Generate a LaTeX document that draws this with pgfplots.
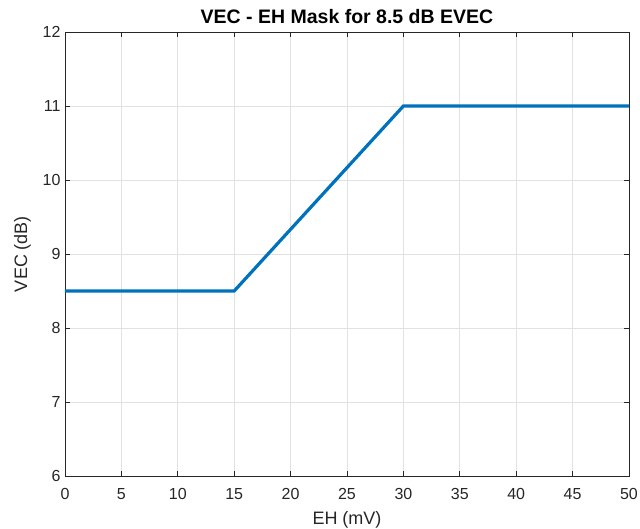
\documentclass[border=0pt]{standalone}
\usepackage{fontspec}
\setmainfont{Liberation Sans}
\usepackage{pgfplots}
\pgfplotsset{compat=1.18}
\definecolor{mblue}{RGB}{0,114,189}
\definecolor{axgray}{RGB}{38,38,38}
\definecolor{gridc}{RGB}{225,225,225}
\begin{document}
\begin{tikzpicture}[x=1pt,y=1pt]
\useasboundingbox (-65,-53) rectangle (575,476);
\begin{axis}[
  scale only axis, width=564pt, height=444pt,
  at={(0,0)}, anchor=south west,
  xmin=0, xmax=50, ymin=6, ymax=12,
  xtick={0,5,...,50}, ytick={6,7,...,12},
  grid=major,
  major grid style={gridc, line width=0.7pt},
  axis line style={axgray, line width=0.8pt},
  tick style={axgray, line width=0.8pt},
  tick align=inside, major tick length=5pt,
  tick label style={font=\fontsize{16}{18}\selectfont, text=axgray},
  /pgf/number format/assume math mode=true,
  xticklabel style={yshift=-9pt},
  yticklabel style={xshift=-1pt},
  title={\textbf{VEC - EH Mask for 8.5 dB EVEC}},
  title style={font=\fontsize{19.5}{22}\selectfont, at={(0.5,1)}, yshift=-1pt},
  xlabel={EH (mV)}, ylabel={VEC (dB)},
  label style={font=\fontsize{18}{21}\selectfont, text=axgray},
  xlabel style={yshift=-5pt},
  ylabel style={yshift=5pt},
]
\addplot[mblue, line width=3.2pt] coordinates {(0,8.5) (15,8.5) (30,11) (50,11)};
\end{axis}
\end{tikzpicture}
\end{document}
